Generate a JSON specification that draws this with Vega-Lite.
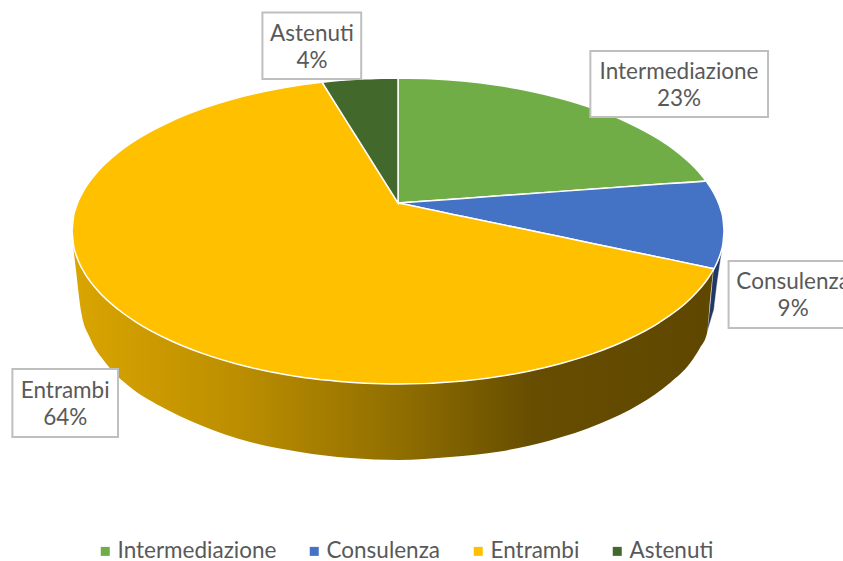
{
"$schema":"https://vega.github.io/schema/vega-lite/v6.json",
"width":843,"height":561,"padding":0,"autosize":{"type":"none"},
"background":"white",
"config":{"view":{"stroke":null}},
"datasets":{
"walls":[
{"category":"Consulenza","x":94.8,"top":-66.7,"bottom":-66.7},
{"category":"Consulenza","x":95.7,"top":-48.4,"bottom":-60.1},
{"category":"Consulenza","x":96.6,"top":-27.5,"bottom":-53.6},
{"category":"Consulenza","x":96.9,"top":-24.6,"bottom":-51.6},
{"category":"Consulenza","x":97.9,"top":-20.6,"bottom":-34},
{"category":"Consulenza","x":98.8,"top":-15.7,"bottom":-20.9},
{"category":"Consulenza","x":99.4,"top":-11.1,"bottom":-12.4},
{"category":"Entrambi","x":-99.7,"top":-9.2,"bottom":-9.2},
{"category":"Entrambi","x":-98.8,"top":-15.7,"bottom":-25.5},
{"category":"Entrambi","x":-97.2,"top":-23.5,"bottom":-52.9},
{"category":"Entrambi","x":-94.5,"top":-32.7,"bottom":-69.9},
{"category":"Entrambi","x":-89.9,"top":-43.8,"bottom":-85.6},
{"category":"Entrambi","x":-82.2,"top":-56.9,"bottom":-102},
{"category":"Entrambi","x":-73,"top":-68.3,"bottom":-114.4},
{"category":"Entrambi","x":-60.7,"top":-79.5,"bottom":-126.8},
{"category":"Entrambi","x":-45.4,"top":-88.9,"bottom":-137.9},
{"category":"Entrambi","x":-30.1,"top":-95.4,"bottom":-144.4},
{"category":"Entrambi","x":-14.7,"top":-98.9,"bottom":-148.4},
{"category":"Entrambi","x":0,"top":-100,"bottom":-149.7},
{"category":"Entrambi","x":16,"top":-98.7,"bottom":-147.7},
{"category":"Entrambi","x":31.3,"top":-94.8,"bottom":-144.1},
{"category":"Entrambi","x":46.6,"top":-88.2,"bottom":-136.9},
{"category":"Entrambi","x":62,"top":-78.4,"bottom":-125.8},
{"category":"Entrambi","x":74.2,"top":-67,"bottom":-113.1},
{"category":"Entrambi","x":83.4,"top":-54.9,"bottom":-99.3},
{"category":"Entrambi","x":89.6,"top":-44.4,"bottom":-86.3},
{"category":"Entrambi","x":92.6,"top":-37.9,"bottom":-76.5},
{"category":"Entrambi","x":94.8,"top":-32,"bottom":-66.7},
{"category":"Entrambi","x":95.7,"top":-28.8,"bottom":-45.1},
{"category":"Entrambi","x":96.6,"top":-25.5,"bottom":-26.8}
],
"slices":[
{"category":"Intermediazione","x":0,"top":100,"bottom":18.3},
{"category":"Intermediazione","x":10,"top":99.5,"bottom":19.8},
{"category":"Intermediazione","x":20,"top":98,"bottom":21.3},
{"category":"Intermediazione","x":30,"top":95.4,"bottom":22.9},
{"category":"Intermediazione","x":40,"top":91.65,"bottom":24.4},
{"category":"Intermediazione","x":50,"top":86.6,"bottom":25.9},
{"category":"Intermediazione","x":60,"top":80,"bottom":27.4},
{"category":"Intermediazione","x":70,"top":71.4,"bottom":29},
{"category":"Intermediazione","x":80,"top":60,"bottom":30.5},
{"category":"Intermediazione","x":85,"top":52.7,"bottom":31.3},
{"category":"Intermediazione","x":90,"top":43.6,"bottom":32},
{"category":"Intermediazione","x":92,"top":39.2,"bottom":32.3},
{"category":"Intermediazione","x":94.5,"top":32.7,"bottom":32.7},
{"category":"Consulenza","x":0,"top":18.3,"bottom":18.3},
{"category":"Consulenza","x":20,"top":21.3,"bottom":9.45},
{"category":"Consulenza","x":40,"top":24.4,"bottom":0.59},
{"category":"Consulenza","x":60,"top":27.4,"bottom":-8.26},
{"category":"Consulenza","x":80,"top":30.5,"bottom":-17.1},
{"category":"Consulenza","x":94,"top":32.6,"bottom":-23.3},
{"category":"Consulenza","x":94.5,"top":32.7,"bottom":-23.5},
{"category":"Consulenza","x":94.7,"top":32.1,"bottom":-23.6},
{"category":"Consulenza","x":96,"top":28,"bottom":-24.2},
{"category":"Consulenza","x":96.5,"top":26.2,"bottom":-24.4},
{"category":"Consulenza","x":96.9,"top":24.7,"bottom":-24.7},
{"category":"Consulenza","x":97.1,"top":23.9,"bottom":-23.9},
{"category":"Consulenza","x":98,"top":19.9,"bottom":-19.9},
{"category":"Consulenza","x":99,"top":14.1,"bottom":-14.1},
{"category":"Consulenza","x":99.7,"top":7.7,"bottom":-7.7},
{"category":"Consulenza","x":100,"top":0,"bottom":0},
{"category":"Entrambi","x":-100,"top":0,"bottom":0},
{"category":"Entrambi","x":-99.5,"top":10,"bottom":-10},
{"category":"Entrambi","x":-99,"top":14.1,"bottom":-14.1},
{"category":"Entrambi","x":-98,"top":19.9,"bottom":-19.9},
{"category":"Entrambi","x":-96,"top":28,"bottom":-28},
{"category":"Entrambi","x":-92,"top":39.2,"bottom":-39.2},
{"category":"Entrambi","x":-86,"top":51,"bottom":-51},
{"category":"Entrambi","x":-80,"top":60,"bottom":-60},
{"category":"Entrambi","x":-70,"top":71.4,"bottom":-71.4},
{"category":"Entrambi","x":-60,"top":80,"bottom":-80},
{"category":"Entrambi","x":-50,"top":86.6,"bottom":-86.6},
{"category":"Entrambi","x":-40,"top":91.65,"bottom":-91.65},
{"category":"Entrambi","x":-30,"top":95.4,"bottom":-95.4},
{"category":"Entrambi","x":-23.5,"top":97.2,"bottom":-97.2},
{"category":"Entrambi","x":-23.3,"top":97.25,"bottom":-97.25},
{"category":"Entrambi","x":-23,"top":96.2,"bottom":-97.3},
{"category":"Entrambi","x":-15,"top":69.1,"bottom":-98.9},
{"category":"Entrambi","x":-10,"top":52.2,"bottom":-99.5},
{"category":"Entrambi","x":-5,"top":35.2,"bottom":-99.87},
{"category":"Entrambi","x":-0.5,"top":20,"bottom":-100},
{"category":"Entrambi","x":0,"top":18.3,"bottom":-100},
{"category":"Entrambi","x":0.5,"top":18.1,"bottom":-100},
{"category":"Entrambi","x":20,"top":9.45,"bottom":-98},
{"category":"Entrambi","x":40,"top":0.59,"bottom":-91.65},
{"category":"Entrambi","x":50,"top":-3.8,"bottom":-86.6},
{"category":"Entrambi","x":60,"top":-8.26,"bottom":-80},
{"category":"Entrambi","x":70,"top":-12.7,"bottom":-71.4},
{"category":"Entrambi","x":80,"top":-17.1,"bottom":-60},
{"category":"Entrambi","x":90,"top":-21.5,"bottom":-43.6},
{"category":"Entrambi","x":95,"top":-23.8,"bottom":-31.2},
{"category":"Entrambi","x":96.9,"top":-24.7,"bottom":-24.7},
{"category":"Astenuti","x":-23.3,"top":97.25,"bottom":97.25},
{"category":"Astenuti","x":-20,"top":98,"bottom":86},
{"category":"Astenuti","x":-15,"top":98.9,"bottom":69.1},
{"category":"Astenuti","x":-10,"top":99.5,"bottom":52.2},
{"category":"Astenuti","x":-5,"top":99.9,"bottom":35.2},
{"category":"Astenuti","x":0,"top":100,"bottom":18.3}
],
"labels":[
{"category":"Intermediazione","share":0.23,"left":59,"right":113.5,"high":117.6,"low":74.5,"cx":86.2,"cy":96},
{"category":"Consulenza","share":0.09,"left":101.4,"right":142,"high":-19.6,"low":-63.4,"cx":121.2,"cy":-41.5},
{"category":"Entrambi","share":0.64,"left":-118.3,"right":-85.9,"high":-90.2,"low":-134.6,"cx":-102.1,"cy":-112.4},
{"category":"Astenuti","share":0.04,"left":-41.6,"right":-11.3,"high":142.8,"low":99.3,"cx":-26.4,"cy":121}
]},
"layer":[
{"data":{"name":"walls"},"transform":[{"filter":"datum.category==='Consulenza'"}],
 "mark":{"type":"area","color":"#1F3864","stroke":"white","strokeWidth":0.5},
 "encoding":{"x":{"field":"x","type":"quantitative","scale":{"domain":[-122.1,136.5]},"axis":null},
 "y":{"field":"top","type":"quantitative","scale":{"domain":[-215.7,151]},"axis":null},"y2":{"field":"bottom"}}},
{"data":{"name":"walls"},"transform":[{"filter":"datum.category==='Entrambi'"}],
 "mark":{"type":"area","interpolate":"monotone","color":{"gradient":"linear","x1":0,"x2":1,"y1":0,"y2":0,"stops":[{"offset":0,"color":"#DAA500"},{"offset":0.25,"color":"#BD8F00"},{"offset":0.5,"color":"#927000"},{"offset":0.72,"color":"#664D00"},{"offset":1,"color":"#5F4700"}]}},
 "encoding":{"x":{"field":"x","type":"quantitative","scale":{"domain":[-122.1,136.5]},"axis":null},
 "y":{"field":"top","type":"quantitative","scale":{"domain":[-215.7,151]},"axis":null},"y2":{"field":"bottom"}}},
{"data":{"name":"slices"},
 "mark":{"type":"area","interpolate":"monotone","stroke":"white","strokeWidth":1.5},
 "encoding":{"x":{"field":"x","type":"quantitative","scale":{"domain":[-122.1,136.5]},"axis":null},
 "y":{"field":"top","type":"quantitative","scale":{"domain":[-215.7,151]},"axis":null},"y2":{"field":"bottom"},
 "color":{"field":"category","type":"nominal","sort":["Intermediazione","Consulenza","Entrambi","Astenuti"],
  "scale":{"domain":["Intermediazione","Consulenza","Entrambi","Astenuti"],"range":["#70AD47","#4472C4","#FFC000","#43682B"]},
  "legend":{"orient":"none","legendX":94,"legendY":540,"direction":"horizontal","columns":4,"title":null,"symbolType":"square","symbolSize":81,"symbolStrokeWidth":0,"symbolOpacity":1,"labelFontSize":22.5,"labelFont":"Lato","labelColor":"#595959","labelLimit":300,"columnPadding":26,"labelOffset":1}}}},
{"data":{"name":"labels"},
 "mark":{"type":"rect","fill":"white","stroke":"#BFBFBF","strokeWidth":2,"clip":true},
 "encoding":{"x":{"field":"left","type":"quantitative","scale":{"domain":[-122.1,136.5]},"axis":null},"x2":{"field":"right"},
 "y":{"field":"high","type":"quantitative","scale":{"domain":[-215.7,151]},"axis":null},"y2":{"field":"low"}}},
{"data":{"name":"labels"},
 "mark":{"type":"text","font":"Lato","fontSize":22.5,"color":"#595959","dy":-12,"align":"center","baseline":"middle"},
 "encoding":{"x":{"field":"cx","type":"quantitative","scale":{"domain":[-122.1,136.5]},"axis":null},
 "y":{"field":"cy","type":"quantitative","scale":{"domain":[-215.7,151]},"axis":null},"text":{"field":"category"}}},
{"data":{"name":"labels"},
 "mark":{"type":"text","font":"Lato","fontSize":22.5,"color":"#595959","dy":15,"align":"center","baseline":"middle"},
 "encoding":{"x":{"field":"cx","type":"quantitative","scale":{"domain":[-122.1,136.5]},"axis":null},
 "y":{"field":"cy","type":"quantitative","scale":{"domain":[-215.7,151]},"axis":null},"text":{"field":"share","type":"quantitative","format":".0%"}}}
]}
